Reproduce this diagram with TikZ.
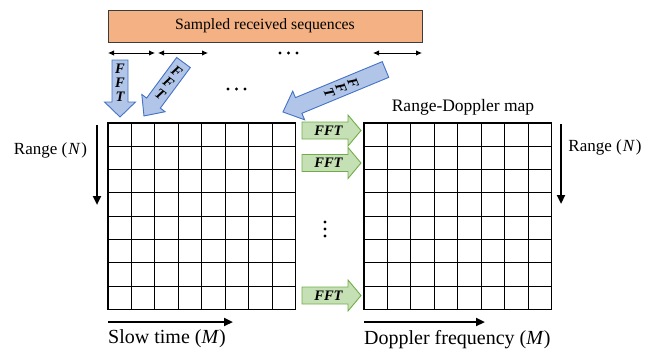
\documentclass[tikz,border=0pt]{standalone}
\usepackage{fontspec}
\setmainfont{Liberation Serif}
\usetikzlibrary{arrows.meta}

\definecolor{boxfill}{HTML}{F4B183}
\definecolor{boxedge}{HTML}{3C3C3C}
\definecolor{bluefill}{HTML}{B0C5E8}
\definecolor{blueedge}{HTML}{4472C4}
\definecolor{greenfill}{HTML}{C5E0B4}
\definecolor{greenedge}{HTML}{70AD47}

% block arrow along the local x axis: style, length, body width, head width, head length
\newcommand\blockarrow[5]{%
  \draw[#1] (0,-#3/2) -- (#2-#5,-#3/2) -- (#2-#5,-#4/2) -- (#2,0)
    -- (#2-#5,#4/2) -- (#2-#5,#3/2) -- (0,#3/2) -- cycle;}

\begin{document}
\begin{tikzpicture}[x=1pt,y=-1pt,
  bluearrow/.style={fill=bluefill,draw=blueedge,line width=0.9pt,line join=miter},
  greenarrow/.style={fill=greenfill,draw=greenedge,line width=0.9pt,line join=miter},
  fftword/.style={inner sep=0pt,font=\fontsize{14.5}{14.5}\selectfont\bfseries\itshape},
  fftstack/.style={inner sep=0pt,align=center,font=\fontsize{14.5}{#1}\selectfont\bfseries\itshape},
  label/.style={inner sep=0pt,font=\fontsize{17}{17}\selectfont},
  bottomlabel/.style={inner sep=0pt,anchor=west,font=\fontsize{20}{20}\selectfont},
  span/.style={line width=0.9pt,{Latex[length=6pt,width=5.5pt]}-{Latex[length=6pt,width=5.5pt]}},
  axisarrow/.style={line width=2.5pt,-{Triangle[length=9pt,width=8pt]}},
  gridline/.style={line width=1.1pt,line cap=rect},
  dot/.style={circle,fill=black,inner sep=0pt,minimum size=3.4pt}]
\useasboundingbox (0,0) rectangle (657,351);

% header box
\node[draw=boxedge,fill=boxfill,line width=1pt,minimum width=314pt,minimum height=32pt,
      inner sep=0pt,font=\fontsize{15.7}{15.7}\selectfont] (seq) at (265,26) {Sampled received sequences};

% segment spans under the header
\coordinate (s1a) at (108,53); \coordinate (s1b) at (155,53);
\coordinate (s2a) at (158,53); \coordinate (s2b) at (208,53);
\coordinate (s3a) at (373,53); \coordinate (s3b) at (422,53);
\draw[span] (s1a) -- (s1b);
\draw[span] (s2a) -- (s2b);
\draw[span] (s3a) -- (s3b);
\foreach \x [count=\i] in {280,288.5,297} \node[dot] (td\i) at (\x,53) {};
\foreach \x [count=\i] in {228,236.5,245} \node[dot] (md\i) at (\x,89) {};

% range FFT arrows (blue), letters stacked along each arrow
\begin{scope}[shift={(120,60)},rotate=-90]
  \blockarrow{bluearrow}{57}{16}{31}{15}
  \node[fftstack=14] (a1) at (23,0) {F\\F\\T};
\end{scope}
\begin{scope}[shift={(183.5,62.5)},rotate=-126.5]
  \blockarrow{bluearrow}{66.5}{17}{29}{16}
  \node[fftstack=14,rotate=-36.5] (a2) at (25,0) {F\\F\\T};
\end{scope}
\begin{scope}[shift={(385.5,69.5)},rotate=-157.5]
  \blockarrow{bluearrow}{111}{17}{31}{17}
  \node[fftstack=13,rotate=-67.5] (a3) at (48,0) {F\\F\\T};
\end{scope}

% grids
\foreach \gx in {108,364}{
  \foreach \i in {0,...,8}{
    \draw[gridline] (\gx+\i*23.45,123) -- (\gx+\i*23.45,309.4);
    \draw[gridline] (\gx,123+\i*23.3) -- (\gx+187.6,123+\i*23.3);
  }
}

% Doppler FFT arrows (green)
\foreach \y [count=\i] in {130.5,163,295.5}{
  \begin{scope}[shift={(302,\y)}]
    \blockarrow{greenarrow}{59}{17}{31}{13}
  \end{scope}
  \node[fftword] (dfft\i) at (328.5,\y) {FFT};
}
\foreach \y [count=\i] in {222,229,236} \node[dot] (vd\i) at (325,\y) {};

% axis labels
\coordinate (rl0) at (97,125); \coordinate (rl1) at (97,205);
\draw[axisarrow] (rl0) -- (rl1);
\node[label] (rangeL) at (50.5,150) {Range (\kern1pt\textit{N}\kern1pt)};
\coordinate (rr0) at (561,124); \coordinate (rr1) at (561,204);
\draw[axisarrow] (rr0) -- (rr1);
\node[label] (rangeR) at (605,147) {Range (\kern1pt\textit{N}\kern1pt)};
\node[label,font=\fontsize{17.5}{17.5}\selectfont] (rdmap) at (463,107) {Range-Doppler map};

\coordinate (st0) at (108,322); \coordinate (st1) at (233,322);
\draw[axisarrow] (st0) -- (st1);
\node[bottomlabel] (slow) at (108,339) {Slow time (\textit{M})};
\coordinate (df0) at (364,322); \coordinate (df1) at (485,322);
\draw[axisarrow] (df0) -- (df1);
\node[bottomlabel] (dopp) at (364,340) {Doppler frequency (\textit{M})};
\end{tikzpicture}
\end{document}
